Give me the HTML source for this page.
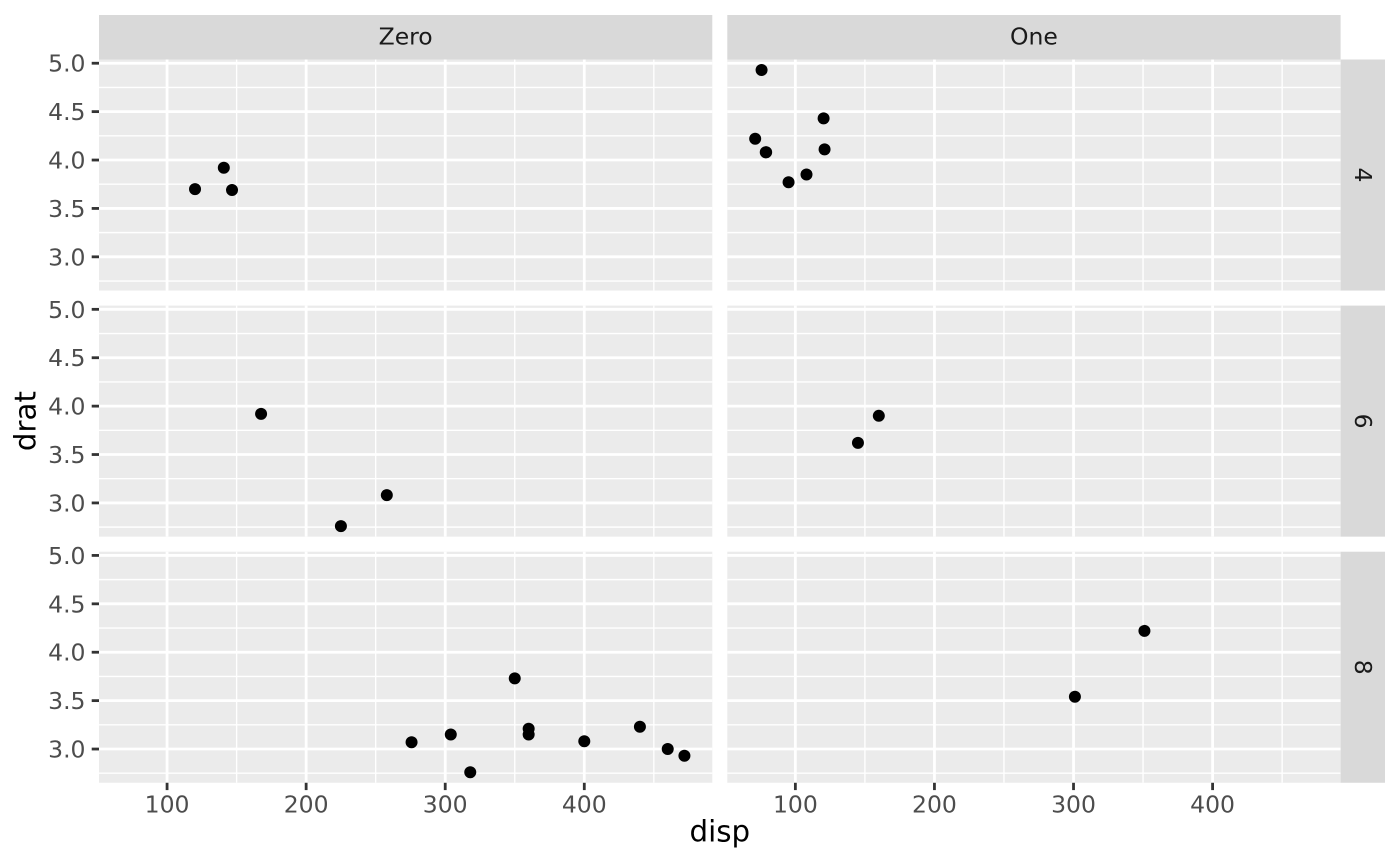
<!DOCTYPE html>
<html>
<head>
<meta charset="utf-8">
<style>
  html, body { margin: 0; padding: 0; background: #ffffff; }
  svg { display: block; }
  .tl { font-family: "DejaVu Sans", "Liberation Sans", sans-serif; font-size: 23.5px; fill: #4D4D4D; }
  .st { font-family: "DejaVu Sans", "Liberation Sans", sans-serif; font-size: 23.5px; fill: #1A1A1A; }
  .at { font-family: "DejaVu Sans", "Liberation Sans", sans-serif; font-size: 29.3px; fill: #000000; }
</style>
</head>
<body>
<svg width="1400" height="866" viewBox="0 0 1400 866" xmlns="http://www.w3.org/2000/svg">
  <defs>
    <g id="panel">
      <rect x="0" y="0" width="613.3" height="231.07" fill="#EBEBEB"/>
      <g stroke="#FFFFFF" stroke-width="1.4">
        <line x1="137.61" y1="0" x2="137.61" y2="231.07"/>
        <line x1="276.68" y1="0" x2="276.68" y2="231.07"/>
        <line x1="415.75" y1="0" x2="415.75" y2="231.07"/>
        <line x1="554.82" y1="0" x2="554.82" y2="231.07"/>
        <line x1="0" y1="27.93" x2="613.3" y2="27.93"/>
        <line x1="0" y1="76.33" x2="613.3" y2="76.33"/>
        <line x1="0" y1="124.73" x2="613.3" y2="124.73"/>
        <line x1="0" y1="173.13" x2="613.3" y2="173.13"/>
        <line x1="0" y1="221.53" x2="613.3" y2="221.53"/>
      </g>
      <g stroke="#FFFFFF" stroke-width="2.8">
        <line x1="68.07" y1="0" x2="68.07" y2="231.07"/>
        <line x1="207.14" y1="0" x2="207.14" y2="231.07"/>
        <line x1="346.22" y1="0" x2="346.22" y2="231.07"/>
        <line x1="485.29" y1="0" x2="485.29" y2="231.07"/>
        <line x1="0" y1="3.73" x2="613.3" y2="3.73"/>
        <line x1="0" y1="52.13" x2="613.3" y2="52.13"/>
        <line x1="0" y1="100.53" x2="613.3" y2="100.53"/>
        <line x1="0" y1="148.93" x2="613.3" y2="148.93"/>
        <line x1="0" y1="197.33" x2="613.3" y2="197.33"/>
      </g>
    </g>
  </defs>

  <!-- panels -->
  <use href="#panel" x="99" y="59.5"/>
  <use href="#panel" x="727.3" y="59.5"/>
  <use href="#panel" x="99" y="305.6"/>
  <use href="#panel" x="727.3" y="305.6"/>
  <use href="#panel" x="99" y="551.7"/>
  <use href="#panel" x="727.3" y="551.7"/>

  <!-- top strips -->
  <rect x="99" y="15" width="613.3" height="44.5" fill="#D9D9D9"/>
  <rect x="727.3" y="15" width="613.3" height="44.5" fill="#D9D9D9"/>
  <text class="st" x="405.65" y="44.3" text-anchor="middle">Zero</text>
  <text class="st" x="1033.95" y="44.3" text-anchor="middle">One</text>

  <!-- right strips -->
  <rect x="1340.6" y="59.5" width="44.4" height="231.07" fill="#D9D9D9"/>
  <rect x="1340.6" y="305.6" width="44.4" height="231.07" fill="#D9D9D9"/>
  <rect x="1340.6" y="551.7" width="44.4" height="231.07" fill="#D9D9D9"/>
  <text class="st" transform="translate(1355,175.03) rotate(90)" text-anchor="middle">4</text>
  <text class="st" transform="translate(1355,421.13) rotate(90)" text-anchor="middle">6</text>
  <text class="st" transform="translate(1355,667.23) rotate(90)" text-anchor="middle">8</text>

  <!-- y ticks -->
  <g stroke="#333333" stroke-width="2.8">
    <line x1="91.7" y1="63.23" x2="99" y2="63.23"/>
    <line x1="91.7" y1="111.63" x2="99" y2="111.63"/>
    <line x1="91.7" y1="160.03" x2="99" y2="160.03"/>
    <line x1="91.7" y1="208.43" x2="99" y2="208.43"/>
    <line x1="91.7" y1="256.83" x2="99" y2="256.83"/>
    <line x1="91.7" y1="309.33" x2="99" y2="309.33"/>
    <line x1="91.7" y1="357.73" x2="99" y2="357.73"/>
    <line x1="91.7" y1="406.13" x2="99" y2="406.13"/>
    <line x1="91.7" y1="454.53" x2="99" y2="454.53"/>
    <line x1="91.7" y1="502.93" x2="99" y2="502.93"/>
    <line x1="91.7" y1="555.43" x2="99" y2="555.43"/>
    <line x1="91.7" y1="603.83" x2="99" y2="603.83"/>
    <line x1="91.7" y1="652.23" x2="99" y2="652.23"/>
    <line x1="91.7" y1="700.63" x2="99" y2="700.63"/>
    <line x1="91.7" y1="749.03" x2="99" y2="749.03"/>
  </g>
  <g class="tl" text-anchor="end">
    <text x="85.5" y="71.7">5.0</text>
    <text x="85.5" y="120.1">4.5</text>
    <text x="85.5" y="168.5">4.0</text>
    <text x="85.5" y="216.9">3.5</text>
    <text x="85.5" y="265.3">3.0</text>
    <text x="85.5" y="317.8">5.0</text>
    <text x="85.5" y="366.2">4.5</text>
    <text x="85.5" y="414.6">4.0</text>
    <text x="85.5" y="463.0">3.5</text>
    <text x="85.5" y="511.4">3.0</text>
    <text x="85.5" y="563.9">5.0</text>
    <text x="85.5" y="612.3">4.5</text>
    <text x="85.5" y="660.7">4.0</text>
    <text x="85.5" y="709.1">3.5</text>
    <text x="85.5" y="757.5">3.0</text>
  </g>

  <!-- x ticks -->
  <g stroke="#333333" stroke-width="2.8">
    <line x1="167.07" y1="782.77" x2="167.07" y2="790.1"/>
    <line x1="306.14" y1="782.77" x2="306.14" y2="790.1"/>
    <line x1="445.22" y1="782.77" x2="445.22" y2="790.1"/>
    <line x1="584.29" y1="782.77" x2="584.29" y2="790.1"/>
    <line x1="795.37" y1="782.77" x2="795.37" y2="790.1"/>
    <line x1="934.44" y1="782.77" x2="934.44" y2="790.1"/>
    <line x1="1073.52" y1="782.77" x2="1073.52" y2="790.1"/>
    <line x1="1212.59" y1="782.77" x2="1212.59" y2="790.1"/>
  </g>
  <g class="tl" text-anchor="middle">
    <text x="167.07" y="812.3">100</text>
    <text x="306.14" y="812.3">200</text>
    <text x="445.22" y="812.3">300</text>
    <text x="584.29" y="812.3">400</text>
    <text x="795.37" y="812.3">100</text>
    <text x="934.44" y="812.3">200</text>
    <text x="1073.52" y="812.3">300</text>
    <text x="1212.59" y="812.3">400</text>
  </g>

  <!-- axis titles -->
  <text class="at" x="719.8" y="841.7" text-anchor="middle">disp</text>
  <text class="at" transform="translate(35.5,421.1) rotate(-90)" text-anchor="middle">drat</text>

  <!-- points -->
  <g fill="#000000">
    <!-- Zero / 4 -->
    <circle cx="195.02" cy="189.07" r="6"/>
    <circle cx="223.81" cy="167.77" r="6"/>
    <circle cx="232.02" cy="190.03" r="6"/>
    <!-- One / 4 -->
    <circle cx="806.50" cy="174.55" r="6"/>
    <circle cx="765.75" cy="152.28" r="6"/>
    <circle cx="761.57" cy="70.00" r="6"/>
    <circle cx="755.18" cy="138.73" r="6"/>
    <circle cx="766.16" cy="152.28" r="6"/>
    <circle cx="823.60" cy="118.40" r="6"/>
    <circle cx="788.56" cy="182.29" r="6"/>
    <circle cx="824.57" cy="149.38" r="6"/>
    <!-- Zero / 6 -->
    <circle cx="386.80" cy="495.18" r="6"/>
    <circle cx="340.91" cy="526.16" r="6"/>
    <circle cx="261.08" cy="413.87" r="6"/>
    <!-- One / 6 -->
    <circle cx="878.81" cy="415.81" r="6"/>
    <circle cx="857.95" cy="442.91" r="6"/>
    <!-- Zero / 8 -->
    <circle cx="528.66" cy="734.51" r="6"/>
    <circle cx="528.66" cy="728.70" r="6"/>
    <circle cx="411.56" cy="742.25" r="6"/>
    <circle cx="684.42" cy="755.80" r="6"/>
    <circle cx="667.73" cy="749.03" r="6"/>
    <circle cx="639.92" cy="726.76" r="6"/>
    <circle cx="470.25" cy="772.26" r="6"/>
    <circle cx="450.78" cy="734.51" r="6"/>
    <circle cx="514.75" cy="678.36" r="6"/>
    <circle cx="584.29" cy="741.28" r="6"/>
    <!-- One / 8 -->
    <circle cx="1144.44" cy="630.93" r="6"/>
    <circle cx="1074.91" cy="696.75" r="6"/>
  </g>
</svg>
</body>
</html>
